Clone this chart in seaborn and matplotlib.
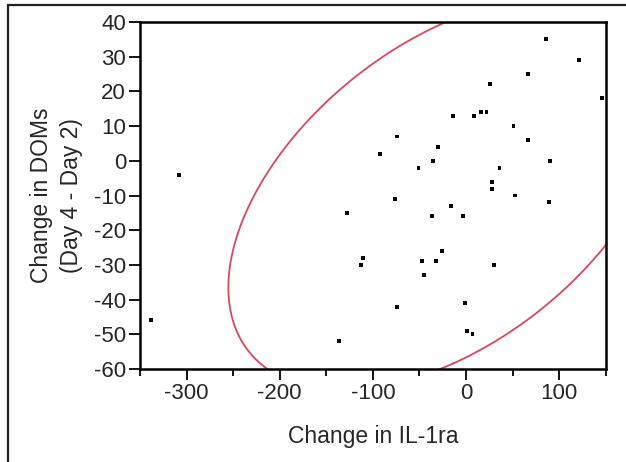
"""
Bivariate fit: change in DOMs vs. change in IL-1ra, with a 95% density ellipse.
"""

import matplotlib
matplotlib.use("Agg")
from matplotlib import pyplot as plt
from matplotlib.patches import Rectangle
import numpy as np
import pandas as pd
import seaborn as sns

#############################################################

# Values.
change_il1ra = [-308, -92, 86, 121, 67, 26, 146, -14, 9, 16, 22, 51, -74, 67, -30, -35, 90,
                -51, 36, 28, 28, 53, -76, 89, -16, -36, -3, -26, -47, -32, 30, -45, -74, -1,
                1, 7, -128, -111, -113, -338, -136]
change_doms = [-4, 2, 35, 29, 25, 22, 18, 13, 13, 14, 14, 10, 7, 6, 4, 0, 0,
               -2, -2, -6, -8, -10, -11, -12, -13, -16, -16, -26, -29, -29, -30, -33, -42, -41,
               -49, -50, -15, -28, -30, -46, -52]

x_ticks = [-300, -200, -100, 0, 100]
y_ticks = [-60, -50, -40, -30, -20, -10, 0, 10, 20, 30, 40]

ELLIPSE_LEVEL = 0.95
ELLIPSE_COLOR = "#d9475c"


def density_ellipse(x, y, level, n_points=200):
    """
    Bivariate normal density ellipse for the given coverage level.

    :param x: x values.
    :param y: y values.
    :param level: coverage probability.
    :return: dataframe with the ellipse outline.
    """
    data = np.vstack([x, y]).astype(float)
    center = data.mean(axis=1)
    cov = np.cov(data)
    vals, vecs = np.linalg.eigh(cov)
    # chi-square quantile with 2 dof
    radius = np.sqrt(-2.0 * np.log(1.0 - level))
    t = np.linspace(0, 2 * np.pi, n_points)
    circle = np.vstack([np.cos(t), np.sin(t)])
    outline = vecs @ (np.sqrt(vals)[:, None] * circle) * radius + center[:, None]
    return pd.DataFrame({"x": outline[0], "y": outline[1]})


################################################################################################################

if __name__ == '__main__':
    sns.set_style("white")
    plt.rcParams['font.family'] = ['Liberation Sans', 'DejaVu Sans']
    plt.rcParams['axes.unicode_minus'] = False

    df = pd.DataFrame({"il1ra": change_il1ra, "doms": change_doms})
    ellipse = density_ellipse(df["il1ra"], df["doms"], ELLIPSE_LEVEL)

    fig = plt.figure(figsize=(6.26, 4.62), dpi=100)
    ax = fig.add_axes([140 / 626, 1 - 369 / 462, (605.7 - 140) / 626, (369 - 22) / 462])

    ax.plot(ellipse["x"], ellipse["y"], color=ELLIPSE_COLOR, lw=1.3, zorder=2)
    sns.scatterplot(data=df, x="il1ra", y="doms", marker="s", s=8, color="black",
                    edgecolor="none", linewidth=0, ax=ax, zorder=3)

    ax.set_xlim(-350, 150)
    ax.set_ylim(-60, 40)
    ax.set_xticks(x_ticks)
    ax.set_xticks(np.arange(-350, 151, 50), minor=True)
    ax.set_yticks(y_ticks)

    ax.tick_params(axis="both", which="major", direction="out", length=8, width=1.3,
                   labelsize=16, color="black", pad=2)
    ax.tick_params(axis="x", which="minor", direction="out", length=5, width=1.3, color="black")
    ax.tick_params(bottom=True, left=True, which="both")

    for spine in ax.spines.values():
        spine.set_visible(True)
        spine.set_color("black")
        spine.set_linewidth(1.8)

    ax.set_xlabel("Change in IL-1ra", fontsize=16.5, labelpad=15)
    ax.set_ylabel("Change in DOMs\n(Day 4 - Day 2)", fontsize=16.5, labelpad=8, linespacing=1.4)

    # Outer frame of the report panel.
    fig.patches.append(Rectangle((8 / 626, -0.1), 1.2, 1.1 - 4.5 / 462, transform=fig.transFigure,
                                 fill=False, edgecolor="#222222", lw=1.6))

    fig.savefig("out.png", dpi=100)
